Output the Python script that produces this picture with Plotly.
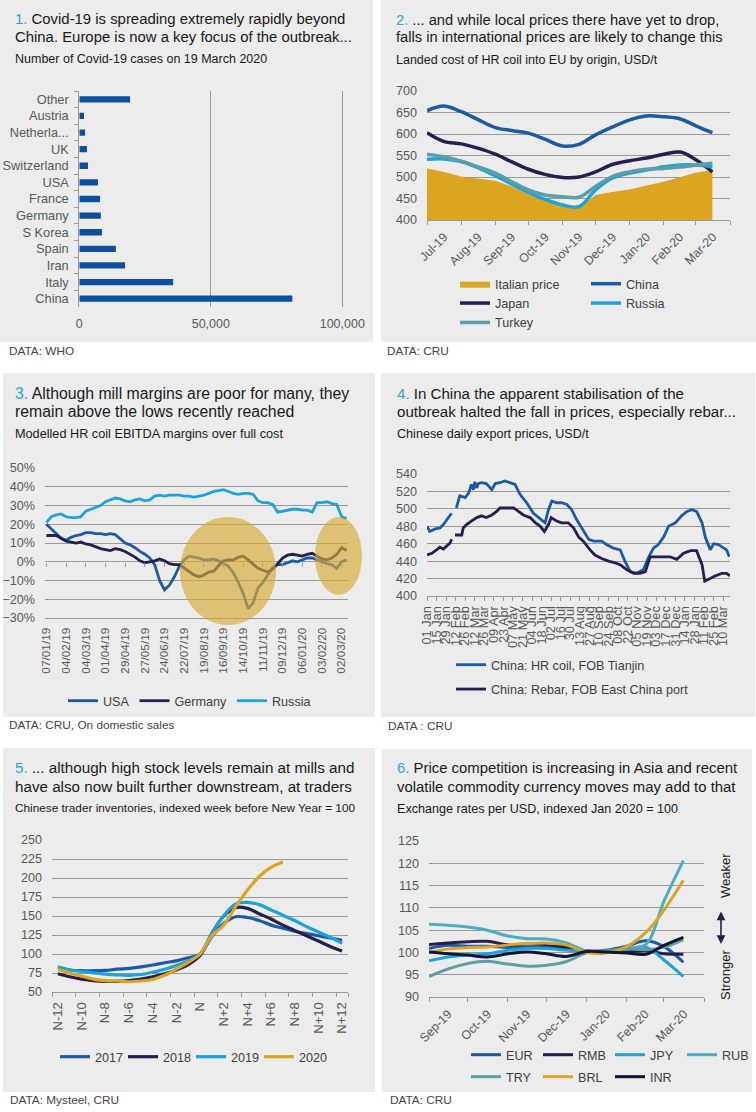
import plotly.graph_objects as go
import pandas as pd

W, H = 756, 1112
FONT = "Liberation Sans, Arial, sans-serif"
NARROW = "Liberation Sans Narrow, Arial Narrow, Liberation Sans, sans-serif"

BLUE = "#1c5aa5"
NAVY = "#231f50"
CYAN = "#1ba3e0"
TEAL = "#5b9ea4"
GOLD = "#dba520"
RUBC = "#4bacc6"
INRC = "#121632"
BARC = "#0c4f9e"
GRID = "#9a9a9a"
TICKC = "#595959"
PANEL = "#ececec"
TBLUE = "#2aa6df"

# ---------------- Panel 1: Covid cases ----------------
covid_countries = ["China", "Italy", "Iran", "Spain", "S Korea", "Germany", "France",
                   "USA", "Switzerland", "UK", "Netherla...", "Austria", "Other"]
covid_cases = [81000, 35700, 17400, 13900, 8600, 8200, 7900, 7100, 3300, 2900, 2200, 1800, 19300]

# ---------------- Panel 2: landed cost ----------------
p2_dates = ["2019-07-01", "2019-07-16", "2019-08-01", "2019-08-16", "2019-09-01", "2019-09-16",
            "2019-10-01", "2019-10-16", "2019-11-01", "2019-11-16", "2019-12-01", "2019-12-16",
            "2020-01-01", "2020-01-16", "2020-02-01", "2020-02-16", "2020-03-01", "2020-03-16"]
p2_italian = [520, 512, 501, 496, 491, 478, 460, 447, 436, 428, 458, 465, 471, 480, 489, 500, 510, 516]
p2_china = [654, 665, 652, 634, 615, 608, 602, 588, 572, 576, 598, 616, 633, 642, 640, 635, 619, 603]
p2_japan = [603, 583, 577, 567, 553, 535, 518, 506, 499, 500, 512, 529, 538, 544, 553, 558, 540, 512]
p2_russia = [541, 542, 536, 522, 503, 483, 464, 448, 435, 431, 470, 497, 509, 516, 524, 528, 528, 524]
p2_turkey = [553, 547, 537, 524, 509, 489, 470, 458, 454, 453, 478, 501, 512, 518, 520, 523, 528, 532]

# ---------------- Panel 3: EBITDA margins (weekly from 07/01/19), % ----------------
p3_start = "2019-01-07"
p3_usa = [20, 17.5, 15, 12.5, 11.5, 13, 14, 14.5, 15.5, 15.5, 15, 15, 14.5, 15, 14.5, 12.5, 10, 9,
          7.5, 5.5, 4, 2, -1.5, -10, -15, -12.5, -8, -2.5, 1, 3, 2.5, 2, 1, 1, 1.5, 0.5, -1, -2.5,
          -6, -11, -17, -25, -22, -14, -11, -7, -3, -1.5, -1.5, -0.5, 0.5, 0, 1, 2, 2, 1, 0, -1,
          -1.5, -3.5, 0, 1]
p3_germany = [14, 14, 14, 12.5, 11, 10.5, 10, 10.5, 9.5, 9, 8, 7, 6.5, 6, 7, 6.5, 5.5, 4, 2.5, 0.5,
              -0.5, 0, 0.5, 1.5, 0.5, -1, -1.5, -1.5, -3.5, -5.5, -7, -8, -7, -5.5, -5, -2, 0.5, 1,
              1, 2.5, 3, 1, -1.5, -3.5, -4.5, -5.5, -4, -1, 2, 3.5, 4, 3.5, 3, 4, 4.5, 3, 1.5, 1, 2,
              4, 7.5, 6]
p3_russia = [21, 24, 25, 25.5, 24, 23.5, 23.5, 24, 27, 28, 29, 30, 32, 33, 34, 33.5, 32.5, 32, 33,
             33.5, 32.5, 33, 35, 35.5, 35, 35.5, 35.5, 35.5, 35, 35, 34.5, 35, 35.5, 36.5, 37.5, 38,
             38.5, 37.5, 36.5, 36, 36.5, 36.5, 36, 32.5, 31.5, 31.5, 30.5, 26.5, 27, 27.5, 28, 28,
             27.5, 27.5, 26.5, 31.5, 31.5, 32, 31, 30.5, 24, 23]
p3_dates = list(pd.date_range(p3_start, periods=len(p3_usa), freq="7D"))

# ---------------- Panel 4: Chinese daily export prices ----------------
p4_hr_dates = ["2019-01-01", "2019-01-05", "2019-01-13", "2019-01-20", "2019-01-25", "2019-01-30",
               "2019-02-06", "2019-02-09", "2019-02-13", "2019-02-18", "2019-02-26", "2019-03-03",
               "2019-03-07", "2019-03-10", "2019-03-12", "2019-03-15", "2019-03-17", "2019-03-22",
               "2019-03-29", "2019-04-06", "2019-04-11", "2019-04-18", "2019-04-25", "2019-05-03",
               "2019-05-10", "2019-05-17", "2019-05-27", "2019-06-06", "2019-06-16", "2019-06-23",
               "2019-06-28", "2019-07-03", "2019-07-10", "2019-07-17", "2019-07-25", "2019-08-01",
               "2019-08-08", "2019-08-18", "2019-08-26", "2019-09-02", "2019-09-14", "2019-09-21",
               "2019-10-01", "2019-10-11", "2019-10-18", "2019-10-26", "2019-11-04", "2019-11-14",
               "2019-11-22", "2019-11-29", "2019-12-06", "2019-12-14", "2019-12-21", "2019-12-31",
               "2020-01-09", "2020-01-17", "2020-01-24", "2020-01-31", "2020-02-08", "2020-02-13",
               "2020-02-20", "2020-02-25", "2020-03-03", "2020-03-11", "2020-03-15", "2020-03-19"]
p4_hr_values = [480, 474, 477, 478, 482, 488, 495, None, 501, 515, 513, 518, 528, 522, 531, 524,
                529, 530, 529, 522, 529, 530, 532, 530, 528, 517, 507, 495, 488, 484, 499, 509,
                507, 507, 505, 499, 488, 476, 465, 463, 463, 459, 455, 453, 440, 428, 426, 430,
                445, 455, 459, 468, 480, 484, 492, 497, 499, 497, 484, 467, 453, 460, 459, 455,
                453, 445]
p4_rebar_dates = ["2019-01-01", "2019-01-08", "2019-01-15", "2019-01-20", "2019-01-25", "2019-01-30",
                  "2019-02-04", "2019-02-06", "2019-02-08", "2019-02-11", "2019-02-21", "2019-02-23",
                  "2019-02-28", "2019-03-07", "2019-03-15", "2019-03-22", "2019-03-29", "2019-04-06",
                  "2019-04-13", "2019-04-18", "2019-04-28", "2019-05-08", "2019-05-15", "2019-05-22",
                  "2019-06-01", "2019-06-09", "2019-06-16", "2019-06-22", "2019-06-28", "2019-07-02",
                  "2019-07-10", "2019-07-17", "2019-07-27", "2019-08-04", "2019-08-11", "2019-08-18",
                  "2019-08-28", "2019-09-04", "2019-09-14", "2019-09-24", "2019-10-04", "2019-10-11",
                  "2019-10-21", "2019-10-31", "2019-11-09", "2019-11-17", "2019-11-24", "2019-12-09",
                  "2019-12-23", "2020-01-02", "2020-01-12", "2020-01-22", "2020-01-31", "2020-02-08",
                  "2020-02-12", "2020-02-20", "2020-02-27", "2020-03-08", "2020-03-15", "2020-03-20"]
p4_rebar_values = [447, 449, 453, 456, 454, 458, 461, 465, None, 470, 470, 478, 482, 486, 490, 492,
                   490, 493, 497, 501, 501, 501, 497, 493, 490, 484, 480, 474, 482, 490, 486, 484,
                   484, 478, 468, 463, 453, 447, 443, 440, 438, 436, 430, 426, 426, 428, 445, 445,
                   445, 442, 449, 452, 452, 436, 417, 420, 423, 426, 426, 423]

# ---------------- Panel 5: trader inventories ----------------
p5_weeks = ["N-12", "N-11", "N-10", "N-9", "N-8", "N-7", "N-6", "N-5", "N-4", "N-3", "N-2", "N-1",
            "N", "N+1", "N+2", "N+3", "N+4", "N+5", "N+6", "N+7", "N+8", "N+9", "N+10", "N+11", "N+12"]
p5_tick_weeks = ["N-12", "N-10", "N-8", "N-6", "N-4", "N-2", "N", "N+2", "N+4", "N+6", "N+8",
                 "N+10", "N+12"]
p5_2017 = [83, 79, 78, 78, 78.5, 80, 81, 83, 85.5, 88.5, 91, 95, 100, 123, 140, 149, 148, 144, 138,
           134, 130, 127, 124, 121, 118]
p5_2018 = [74, 70, 67, 65, 64, 64, 65, 67, 70, 74, 79, 86, 98, 127, 150, 161, 160, 153, 146, 138,
           131, 124, 117, 110, 104]
p5_2019 = [83, 79, 77, 75, 73.5, 72.5, 72, 73, 76, 80, 85, 91, 100, 127, 150, 166, 168, 165, 158,
           151, 144, 136, 129, 122, 114]
p5_2020 = [80, 75, 71, 67, 65, 64.5, 63.5, 64.5, 66.5, 72, 80, 89, 100, 124, 138, 162, 184, 202,
           214, 221]

# ---------------- Panel 6: exchange rates ----------------
p6_dates = ["2019-09-01", "2019-09-16", "2019-10-01", "2019-10-16", "2019-11-01", "2019-11-16",
            "2019-12-01", "2019-12-16", "2020-01-01", "2020-01-16", "2020-02-01", "2020-02-16",
            "2020-03-01", "2020-03-16"]
p6_eur = [100.9, 101.6, 101.4, 101.4, 101.1, 101.2, 101.2, 100.7, 100.3, 100.5, 101.4, 102.6, 101.3, 97.8]
p6_rmb = [101.8, 102.1, 102.4, 102.5, 101.7, 101.9, 101.8, 101.2, 100.3, 100.1, 100.1, 100.4, 99.7, 99.6]
p6_jpy = [98.1, 99.0, 99.4, 99.7, 100.5, 100.9, 100.9, 100.5, 100.2, 100.2, 100.7, 101.2, 98.3, 94.6]
p6_rub = [106.3, 106.1, 105.7, 105.0, 103.7, 103.1, 103.0, 102.2, 100.3, 100.1, 100.8, 101.8, 111.5, 120.6]
p6_try = [94.6, 96.3, 97.5, 98.0, 97.4, 96.9, 97.1, 97.9, 99.9, 100.4, 100.8, 100.6, 101.2, 102.9]
p6_brl = [100.0, 100.8, 101.1, 101.2, 101.7, 102.0, 102.1, 101.7, 100.0, 99.9, 101.3, 104.5, 109.5, 116.2]
p6_inr = [100.1, 99.7, 99.4, 99.0, 99.7, 100.1, 99.7, 99.1, 100.2, 100.1, 99.9, 99.6, 101.6, 103.4]


def fx(x):
    return x / W


def fy(y):
    return 1 - y / H


def tf(size=12, family=FONT, color=TICKC):
    return dict(family=family, size=size, color=color)


fig = go.Figure()

# ---- Panel 1 ----
fig.add_trace(go.Bar(x=covid_cases, y=covid_countries, orientation="h", marker_color=BARC,
                     width=0.38, xaxis="x", yaxis="y", showlegend=False))

# ---- Panel 2 ----
fig.add_trace(go.Scatter(x=p2_dates, y=p2_italian, name="Italian price", mode="lines",
                         line=dict(width=0, color=GOLD), fill="tozeroy", fillcolor=GOLD,
                         xaxis="x2", yaxis="y2", legend="legend"))
fig.add_trace(go.Scatter(x=p2_dates, y=p2_china, name="China", mode="lines",
                         line=dict(width=3.5, color=BLUE, shape="spline"),
                         xaxis="x2", yaxis="y2", legend="legend2"))
fig.add_trace(go.Scatter(x=p2_dates, y=p2_japan, name="Japan", mode="lines",
                         line=dict(width=3.5, color=NAVY, shape="spline"),
                         xaxis="x2", yaxis="y2", legend="legend"))
fig.add_trace(go.Scatter(x=p2_dates, y=p2_russia, name="Russia", mode="lines",
                         line=dict(width=3.5, color=CYAN, shape="spline"),
                         xaxis="x2", yaxis="y2", legend="legend2"))
fig.add_trace(go.Scatter(x=p2_dates, y=p2_turkey, name="Turkey", mode="lines",
                         line=dict(width=3.5, color=TEAL, shape="spline"),
                         xaxis="x2", yaxis="y2", legend="legend"))

# ---- Panel 3 ----
for name, vals, col in [("USA", p3_usa, BLUE), ("Germany", p3_germany, NAVY), ("Russia", p3_russia, CYAN)]:
    fig.add_trace(go.Scatter(x=p3_dates, y=vals, name=name, mode="lines",
                             line=dict(width=2.8, color=col), xaxis="x3", yaxis="y3",
                             legend="legend3"))
fig.add_trace(go.Scatter(x=[p3_dates[0]], y=[None], mode="lines", showlegend=False,
                         xaxis="x7", yaxis="y3"))

# ---- Panel 4 ----
fig.add_trace(go.Scatter(x=p4_hr_dates, y=p4_hr_values, name="China: HR coil, FOB Tianjin",
                         mode="lines", line=dict(width=2.8, color=BLUE), connectgaps=False,
                         xaxis="x4", yaxis="y4", legend="legend4", legendgroup="hr"))
fig.add_trace(go.Scatter(x=p4_rebar_dates, y=p4_rebar_values, name="China: Rebar, FOB East China port",
                         mode="lines", line=dict(width=2.8, color=NAVY), connectgaps=False,
                         xaxis="x4", yaxis="y4", legend="legend4", legendgroup="rebar"))

# ---- Panel 5 ----
for name, vals, col in [("2017", p5_2017, BLUE), ("2018", p5_2018, NAVY),
                        ("2019", p5_2019, CYAN), ("2020", p5_2020, GOLD)]:
    fig.add_trace(go.Scatter(x=p5_weeks[:len(vals)], y=vals, name=name, mode="lines",
                             line=dict(width=3.2, color=col, shape="spline"),
                             xaxis="x5", yaxis="y5", legend="legend5"))

# ---- Panel 6 ----
for name, vals, col, lg in [("EUR", p6_eur, BLUE, "legend6"), ("RMB", p6_rmb, NAVY, "legend6"),
                            ("JPY", p6_jpy, CYAN, "legend6"), ("RUB", p6_rub, RUBC, "legend6"),
                            ("TRY", p6_try, TEAL, "legend7"), ("BRL", p6_brl, GOLD, "legend7"),
                            ("INR", p6_inr, INRC, "legend7")]:
    fig.add_trace(go.Scatter(x=p6_dates, y=vals, name=name, mode="lines",
                             line=dict(width=3, color=col, shape="spline"),
                             xaxis="x6", yaxis="y6", legend=lg))

# ---------------- Layout ----------------
grid_y = dict(showgrid=True, gridcolor=GRID, gridwidth=1, zeroline=False, showline=False,
              ticks="", tickfont=tf(12.6), ticklabelstandoff=9, automargin=False)

layout = dict(
    template="none",
    width=W, height=H, autosize=False,
    margin=dict(l=0, r=0, t=0, b=0, pad=0),
    paper_bgcolor="white", plot_bgcolor="rgba(0,0,0,0)",
    font=dict(family=FONT, size=12, color="#222"),
    hovermode=False,
)

# Panel 1 axes
layout["xaxis"] = dict(domain=[fx(79.3), fx(343.6)], range=[0, 100500], anchor="y",
                       tickvals=[0, 50000, 100000], ticktext=["0", "50,000", "100,000"],
                       showgrid=True, gridcolor=GRID, zeroline=False, showline=False, ticks="",
                       tickfont=tf(12.5), ticklabelstandoff=7, automargin=False)
layout["yaxis"] = dict(domain=[fy(307), fy(91)], anchor="x", type="category",
                       categoryorder="array", categoryarray=covid_countries,
                       showline=True, linecolor=GRID, ticks="outside", ticklen=4, tickcolor=GRID,
                       tickson="boundaries", showgrid=False, tickfont=tf(12.8), ticklabelstandoff=7,
                       automargin=False)

# Panel 2 axes
layout["xaxis2"] = dict(domain=[fx(427), fx(730)], anchor="y2", type="date",
                        range=["2019-07-01", "2020-04-01"], dtick="M1", tick0="2019-07-01",
                        tickformat="%b-%y", ticklabelmode="period", tickangle=-45,
                        ticks="outside", ticklen=4, tickcolor=GRID, showline=True, linecolor=GRID,
                        showgrid=False, tickfont=tf(12.3), automargin=False)
layout["yaxis2"] = dict(domain=[fy(220), fy(91)], anchor="x2", range=[400, 700], dtick=50, **grid_y)

# Panel 3 axes
p3_dtick = 28 * 86400000
layout["xaxis3"] = dict(domain=[fx(45), fx(348)], anchor="y3", type="date",
                        range=["2019-01-05", "2020-03-11"], tick0=p3_start, dtick=p3_dtick,
                        tickformat="%d/%m/%y", tickangle=-90, ticks="", showgrid=False,
                        showline=True, linecolor=GRID, tickfont=tf(11.8), ticklabelstandoff=4,
                        automargin=False)
layout["xaxis7"] = dict(overlaying="x3", anchor="free", position=fy(562), type="date",
                        range=["2019-01-05", "2020-03-11"], tick0=p3_start, dtick=p3_dtick,
                        ticks="outside", ticklen=4, tickcolor=GRID, showticklabels=False,
                        showgrid=False, showline=False, automargin=False)
g3 = dict(grid_y)
g3["tickfont"] = tf(12.6, NARROW)
layout["yaxis3"] = dict(domain=[fy(618), fy(468)], anchor="x3", range=[-30, 50.01], dtick=10,
                        ticksuffix="%", **g3)
layout["yaxis3"]["zeroline"] = True
layout["yaxis3"]["zerolinecolor"] = GRID
layout["yaxis3"]["zerolinewidth"] = 1

# Panel 4 axes
layout["xaxis4"] = dict(domain=[fx(427), fx(730)], anchor="y4", type="date",
                        range=["2019-01-01", "2020-03-20"], tick0="2019-01-01",
                        dtick=14 * 86400000, tickformat="%d %b", tickangle=-90,
                        ticks="outside", ticklen=4, tickcolor=GRID, showline=True, linecolor=GRID,
                        showgrid=False, tickfont=tf(12.8), ticklabelstandoff=0, automargin=False)
layout["yaxis4"] = dict(domain=[fy(596), fy(474)], anchor="x4", range=[400, 540.01], dtick=20, **grid_y)

# Panel 5 axes
layout["xaxis5"] = dict(domain=[fx(52), fx(348)], anchor="y5", type="category",
                        categoryorder="array", categoryarray=p5_weeks, range=[-0.5, 24.5],
                        tickvals=p5_tick_weeks, tickangle=-90, ticks="outside", ticklen=4,
                        tickcolor=GRID, tickson="boundaries", showline=True, linecolor=GRID,
                        showgrid=False, tickfont=tf(13), ticklabelstandoff=4, automargin=False)
layout["yaxis5"] = dict(domain=[fy(992), fy(840)], anchor="x5", range=[50, 250.01], dtick=25, **grid_y)

# Panel 6 axes
layout["xaxis6"] = dict(domain=[fx(429), fx(704)], anchor="y6", type="date",
                        range=["2019-09-01", "2020-04-01"], dtick="M1", tick0="2019-09-01",
                        tickformat="%b-%y", ticklabelmode="period", tickangle=-45,
                        ticks="outside", ticklen=4, tickcolor=GRID, showline=True, linecolor=GRID,
                        showgrid=False, tickfont=tf(12.3), automargin=False)
layout["yaxis6"] = dict(domain=[fy(997), fy(841)], anchor="x6", range=[90, 125.01], dtick=5, **grid_y)

# Legends
def leg(x, y, orient="v", **kw):
    d = dict(x=fx(x), y=fy(y), xanchor="left", yanchor="top", orientation=orient,
             bgcolor="rgba(0,0,0,0)", borderwidth=0,
             font=dict(family=FONT, size=12.6, color="#404040"),
             itemwidth=30, traceorder="normal", itemclick=False, itemdoubleclick=False)
    d.update(kw)
    return d

layout["legend"] = leg(455, 269)
layout["legend2"] = leg(586, 269)
layout["legend3"] = leg(63, 686, "h")
layout["legend4"] = leg(451, 650, traceorder="grouped", tracegroupgap=5)
layout["legend5"] = leg(55, 1042, "h", entrywidth=23)
layout["legend6"] = leg(466, 1040, "h", entrywidth=27)
layout["legend7"] = leg(466, 1062, "h", entrywidth=27)

fig.update_layout(**layout)

# Panel backgrounds
panels = [(0, 0, 373, 342), (381, 0, 756, 342), (3, 373, 375, 717),
          (381, 373, 755, 717), (3, 748, 375, 1092), (382, 749, 752, 1092)]
for (x0, y0, x1, y1) in panels:
    fig.add_shape(type="rect", xref="paper", yref="paper", x0=fx(x0), x1=fx(x1),
                  y0=fy(y1), y1=fy(y0), fillcolor=PANEL, line_width=0, layer="below")

# Highlight ellipses on panel 3
for (x0, y0, x1, y1) in [(180, 517, 276, 625), (315, 517, 362, 595)]:
    fig.add_shape(type="circle", xref="paper", yref="paper", x0=fx(x0), x1=fx(x1),
                  y0=fy(y1), y1=fy(y0), fillcolor="#d6aa35", opacity=0.66, line_width=0,
                  layer="above")

# Titles: (x, y line1, y line2, y subtitle, title size, subtitle size, number, line1, line2, subtitle)
titles = [
    (13, 19, 37, 59, 14.9, 12.5, "1.", "Covid-19 is spreading extremely rapidly beyond",
     "China. Europe is now a key focus of the outbreak...", "Number of Covid-19 cases on 19 March 2020"),
    (394, 20, 37, 60, 14.7, 12.5, "2.", "... and while local prices there have yet to drop,",
     "falls in international prices are likely to change this",
     "Landed cost of HR coil into EU by origin, USD/t"),
    (13, 393, 412, 434, 15.8, 12.7, "3.", "Although mill margins are poor for many, they",
     "remain above the lows recently reached", "Modelled HR coil EBITDA margins over full cost"),
    (395, 393, 412, 434, 15.1, 12.6, "4.", "In China the apparent stabilisation of the",
     "outbreak halted the fall in prices, especially rebar...", "Chinese daily export prices, USD/t"),
    (13, 767, 786, 808, 15.2, 11.8, "5.", "... although high stock levels remain at mills and",
     "have also now built further downstream, at traders",
     "Chinese trader inventories, indexed week before New Year = 100"),
    (395, 768, 787, 809, 14.9, 12.6, "6.", "Price competition is increasing in Asia and recent",
     "volatile commodity currency moves may add to that",
     "Exchange rates per USD, indexed Jan 2020 = 100"),
]
ann = []
for (x, y1, y2, y3, ts, ss, num, l1, l2, sub) in titles:
    ann.append(dict(x=fx(x), y=fy(y1), xref="paper", yref="paper", xanchor="left", yanchor="middle",
                    showarrow=False, text=f'<span style="color:{TBLUE}">{num}</span> {l1}',
                    font=dict(family=FONT, size=ts, color="#1a1a1a")))
    ann.append(dict(x=fx(x), y=fy(y2), xref="paper", yref="paper", xanchor="left", yanchor="middle",
                    showarrow=False, text=l2, font=dict(family=FONT, size=ts, color="#1a1a1a")))
    ann.append(dict(x=fx(x), y=fy(y3), xref="paper", yref="paper", xanchor="left", yanchor="middle",
                    showarrow=False, text=sub, font=dict(family=FONT, size=ss, color="#1a1a1a")))

sources = [(7, 351, "DATA: WHO"), (385, 351, "DATA: CRU"), (7, 725, "DATA: CRU, On domestic sales"),
           (386, 726, "DATA : CRU"), (8, 1100, "DATA: Mysteel, CRU"), (388, 1100, "DATA: CRU")]
for (x, y, t) in sources:
    ann.append(dict(x=fx(x), y=fy(y), xref="paper", yref="paper", xanchor="left", yanchor="middle",
                    showarrow=False, text=t, font=dict(family=FONT, size=11.8, color="#444444")))

# Weaker / Stronger
ann.append(dict(x=fx(725), y=fy(876), xref="paper", yref="paper", xanchor="center", yanchor="middle",
                showarrow=False, text="Weaker", textangle=-90,
                font=dict(family=FONT, size=13, color="#1a1a1a")))
ann.append(dict(x=fx(725), y=fy(975), xref="paper", yref="paper", xanchor="center", yanchor="middle",
                showarrow=False, text="Stronger", textangle=-90,
                font=dict(family=FONT, size=13, color="#1a1a1a")))
ann.append(dict(x=fx(721), y=fy(944), xref="paper", yref="paper", ax=0, ay=-34, axref="pixel",
                ayref="pixel", text="", showarrow=True, arrowhead=2, startarrowhead=2,
                arrowside="end+start", arrowwidth=1.6, arrowsize=1.1, startarrowsize=1.1,
                arrowcolor=NAVY))

fig.update_layout(annotations=ann)

fig.write_html("out.html", config={"displayModeBar": False},
               post_script="document.body.style.margin='0px';document.body.style.overflow='hidden';")
